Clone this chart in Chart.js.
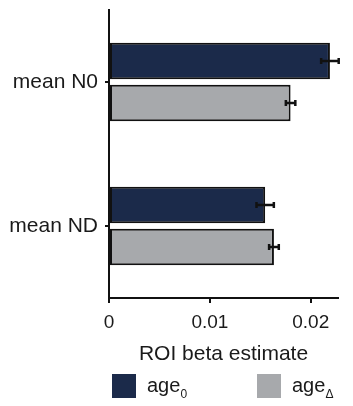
<!DOCTYPE html>
<html>
<head>
<meta charset="utf-8">
<script src="https://cdn.jsdelivr.net/npm/chart.js@4.4.1/dist/chart.umd.min.js"></script>
<style>
  html, body { margin: 0; padding: 0; background: #fff; }
  #wrap { position: relative; width: 353px; height: 406px; overflow: hidden; }
  canvas { position: absolute; left: 0; top: 0; }
  #legend { position: absolute; left: 0; top: 374px; width: 353px; height: 30px;
            font-family: "Liberation Sans", Arial, sans-serif; font-size: 20px; color: #1a1a1a; }
  .item { position: absolute; top: 0; height: 24px; }
  .box { position: absolute; left: 0; top: 0; width: 24px; height: 24px; }
  .txt { position: absolute; left: 35px; top: -1px; white-space: nowrap; line-height: 24px; }
  .txt sub { font-size: 12px; vertical-align: -6px; line-height: 0; }
</style>
</head>
<body>
<div id="wrap">
  <canvas id="c" width="353" height="406"></canvas>
  <div id="legend"></div>
</div>
<script>
// ---- data ----
const categories = ['mean N0', 'mean ND'];
const seriesBase = ['age', 'age'];          // legend text
const seriesSub = ['0', 'Δ'];               // legend subscripts
const age0Values = [0.0219, 0.01548];
const age0Errors = [0.00087, 0.00086];
const ageDeltaValues = [0.0180, 0.01635];
const ageDeltaErrors = [0.00047, 0.00048];
const xTickValues = [0, 0.01, 0.02];
const xTickLabels = ['0', '0.01', '0.02'];
const xMax = 0.0227;
const xTitle = 'ROI beta estimate';

const colors = ['#1b2a4a', '#a7a9ac'];
const FONT = '"Liberation Sans", Arial, sans-serif';

const errorBars = {
  id: 'errorBars',
  afterDatasetsDraw(chart) {
    const ctx = chart.ctx;
    const xs = chart.scales.x;
    ctx.save();
    ctx.strokeStyle = '#111';
    ctx.lineWidth = 2.5;
    chart.data.datasets.forEach((ds, i) => {
      const meta = chart.getDatasetMeta(i);
      meta.data.forEach((bar, j) => {
        const v = ds.data[j], e = ds.errors[j];
        const x1 = xs.getPixelForValue(v - e), x2 = xs.getPixelForValue(v + e);
        const y = bar.y;
        ctx.beginPath();
        ctx.moveTo(x1, y); ctx.lineTo(x2, y);
        ctx.moveTo(x1, y - 3); ctx.lineTo(x1, y + 3);
        ctx.moveTo(x2, y - 3); ctx.lineTo(x2, y + 3);
        ctx.stroke();
      });
    });
    ctx.restore();
  }
};

new Chart(document.getElementById('c'), {
  type: 'bar',
  data: {
    labels: categories,
    datasets: [
      { label: seriesBase[0] + seriesSub[0], data: age0Values, errors: age0Errors,
        backgroundColor: colors[0], borderColor: '#111', borderWidth: 2, borderSkipped: false },
      { label: seriesBase[1] + seriesSub[1], data: ageDeltaValues, errors: ageDeltaErrors,
        backgroundColor: colors[1], borderColor: '#111', borderWidth: 2, borderSkipped: false }
    ]
  },
  options: {
    indexAxis: 'y',
    responsive: false,
    animation: false,
    categoryPercentage: 0.583,
    barPercentage: 0.87,
    layout: { padding: { top: 10, right: 15, left: 0, bottom: 0 } },
    plugins: { legend: { display: false }, tooltip: { enabled: false } },
    scales: {
      y: {
        afterFit(s) { s.width = 109; s.paddingTop = 0; s.paddingBottom = 0; },
        grid: { display: true, drawOnChartArea: false, offset: false, tickLength: 4, color: '#111', lineWidth: 2 },
        border: { display: true, color: '#111', width: 2 },
        ticks: { color: '#1a1a1a', font: { family: FONT, size: 21 }, padding: 7 }
      },
      x: {
        min: 0, max: xMax,
        afterFit(s) { s.height = 108; },
        afterBuildTicks(s) { s.ticks = xTickValues.map(v => ({ value: v })); },
        grid: { display: true, drawOnChartArea: false, tickLength: 5, color: '#111', lineWidth: 2 },
        border: { display: true, color: '#111', width: 2 },
        ticks: {
          color: '#1a1a1a', font: { family: FONT, size: 19 }, padding: 8, maxRotation: 0,
          callback(value, index) { return xTickLabels[index]; }
        },
        title: { display: true, text: xTitle, color: '#1a1a1a', font: { family: FONT, size: 21 },
                 padding: { top: 0, bottom: 39 } }
      }
    }
  },
  plugins: [errorBars]
});

// HTML legend with subscripts
const legend = document.getElementById('legend');
const legendLefts = [112, 257];
seriesBase.forEach((base, i) => {
  const item = document.createElement('div');
  item.className = 'item';
  item.style.left = legendLefts[i] + 'px';
  const box = document.createElement('div');
  box.className = 'box';
  box.style.background = colors[i];
  const txt = document.createElement('div');
  txt.className = 'txt';
  txt.appendChild(document.createTextNode(base));
  const sub = document.createElement('sub');
  sub.textContent = seriesSub[i];
  txt.appendChild(sub);
  item.appendChild(box); item.appendChild(txt);
  legend.appendChild(item);
});
</script>
</body>
</html>
